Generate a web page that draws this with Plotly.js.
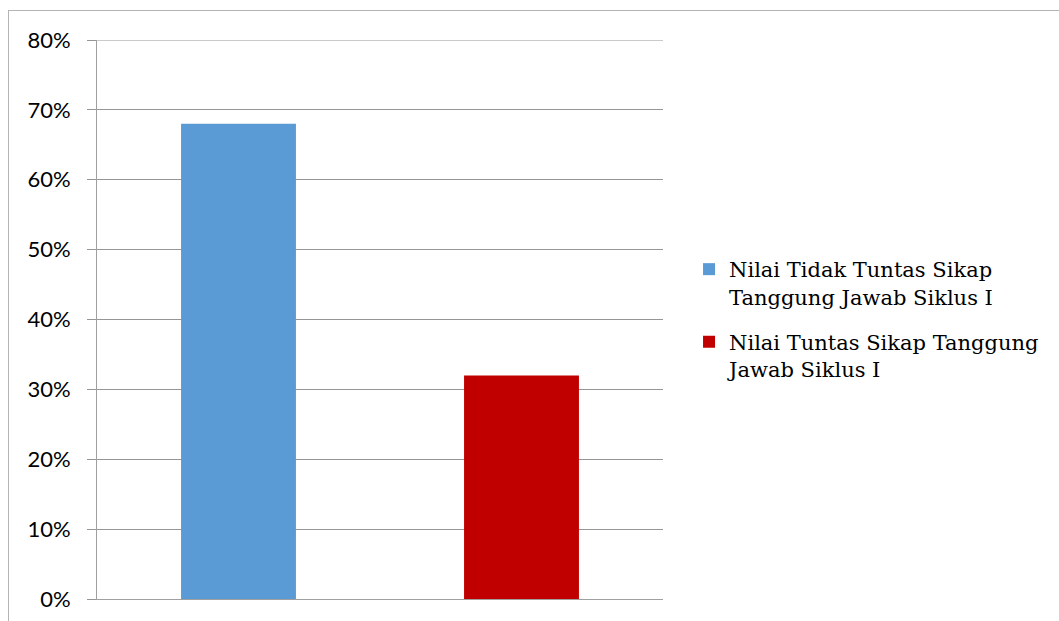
<!DOCTYPE html>
<html>
<head>
<meta charset="utf-8">
<script src="https://cdn.plot.ly/plotly-3.0.1.min.js"></script>
<style>
html,body{margin:0;padding:0;background:#fff;}
#wrap{position:relative;width:1059px;height:621px;}
#chart{position:absolute;left:0;top:0;width:1059px;height:621px;}
#frame{position:absolute;left:8px;top:10px;width:1051px;height:611px;border-top:1px solid #b4b4b4;border-left:1px solid #b4b4b4;pointer-events:none;box-sizing:border-box;}
</style>
</head>
<body>
<div id="wrap"><div id="chart"></div><div id="frame"></div></div>
<script>
const seriesNames = ["Nilai Tidak Tuntas Sikap<br>Tanggung Jawab Siklus I", "Nilai Tuntas Sikap Tanggung<br>Jawab Siklus I"];
const seriesValues = [0.68, 0.32];
const seriesColors = ["#5b9bd5", "#c00000"];
const categoryPositions = [0, 1];
const yTicks = [0, 0.1, 0.2, 0.3, 0.4, 0.5, 0.6, 0.7, 0.8];

const traces = seriesNames.map((n, i) => ({
  type: 'bar',
  name: n,
  legendgroup: 'g' + i,
  x: [categoryPositions[i]],
  y: [seriesValues[i]],
  width: 0.406,
  marker: {color: seriesColors[i]},
  hoverinfo: 'skip'
}));

const layout = {
  width: 1059, height: 621,
  margin: {l: 97, r: 396, t: 40, b: 22, pad: 0},
  paper_bgcolor: 'rgba(0,0,0,0)',
  plot_bgcolor: '#fff',
  barmode: 'overlay',
  showlegend: true,
  xaxis: {
    range: [-0.5, 1.5], showticklabels: false, showgrid: false, zeroline: false,
    showline: true, linecolor: '#a0a0a0', linewidth: 1, ticks: '', fixedrange: true
  },
  yaxis: {
    range: [0, 0.8], tickvals: yTicks, tickformat: '.0%',
    showgrid: true, gridcolor: '#969696', gridwidth: 1, zeroline: false,
    showline: true, linecolor: '#a0a0a0', linewidth: 1,
    ticks: 'outside', ticklen: 9, tickcolor: '#969696', tickwidth: 1,
    ticklabelstandoff: 12,
    tickfont: {family: 'Lato, "Liberation Sans", Arial, sans-serif', size: 22, color: '#000'}
  },
  shapes: [{
    type: 'line', xref: 'paper', yref: 'y', x0: 0, x1: 1,
    y0: yTicks[yTicks.length - 1], y1: yTicks[yTicks.length - 1],
    line: {color: '#969696', width: 1}, layer: 'below'
  }],
  legend: {
    x: 1.046, xanchor: 'left', y: 0.5, yanchor: 'middle',
    valign: 'top', traceorder: 'grouped', tracegroupgap: 15,
    font: {family: '"DejaVu Serif", "Liberation Serif", serif', size: 21, color: '#000'},
    bgcolor: 'rgba(0,0,0,0)', borderwidth: 0
  }
};

Plotly.newPlot('chart', traces, layout, {displayModeBar: false, staticPlot: true});
</script>
</body>
</html>
